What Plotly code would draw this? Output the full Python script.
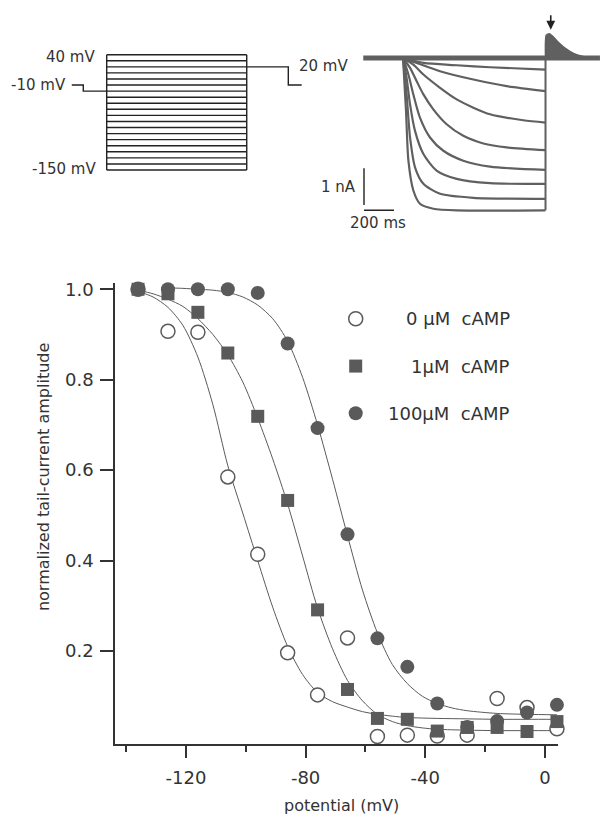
import plotly.graph_objects as go

W, H = 600, 818
FONT = "DejaVu Sans"
INK = "#333333"
GRAY = "#5a5a5a"

# ---------------- data: tail-current activation (bottom panel) ----------------
potential_mV = [-136, -126, -116, -106, -96, -86, -76, -66, -56, -46, -36, -26, -16, -6, 4]
camp_0uM = [1.0, 0.907, 0.905, 0.585, 0.414, 0.196, 0.103, 0.229, 0.011, 0.014, 0.012, 0.014, 0.095, 0.075, 0.028]
camp_1uM = [1.0, 0.99, 0.949, 0.859, 0.719, 0.533, 0.291, 0.115, 0.051, 0.049, 0.023, 0.031, 0.031, 0.022, 0.044]
camp_100uM = [1.0, 1.0, 1.0, 1.0, 0.992, 0.880, 0.693, 0.458, 0.228, 0.165, 0.084, 0.032, 0.045, 0.064, 0.081]

fit_0uM_V = [-136, -131, -126, -121, -116, -111, -106, -101, -96, -91, -86, -81, -76, -71, -66, -61, -56, -51, -46, -36, -26, -16, -6, 4]
fit_0uM_y = [0.995, 0.983, 0.96, 0.92, 0.85, 0.745, 0.61, 0.505, 0.40, 0.297, 0.21, 0.148, 0.108, 0.088, 0.076, 0.066, 0.06, 0.056, 0.053, 0.051, 0.05, 0.049, 0.049, 0.049]

fit_1uM_V = [-136, -131, -126, -121, -116, -111, -106, -101, -96, -91, -86, -81, -76, -71, -66, -61, -56, -51, -46, -41, -36, -26, -16, -6, 4]
fit_1uM_y = [0.998, 0.99, 0.978, 0.962, 0.935, 0.9, 0.855, 0.795, 0.715, 0.625, 0.525, 0.41, 0.295, 0.205, 0.135, 0.09, 0.06, 0.044, 0.035, 0.03, 0.027, 0.025, 0.024, 0.024, 0.024]

fit_100uM_V = [-126, -121, -116, -111, -106, -101, -96, -91, -86, -81, -76, -71, -66, -61, -56, -51, -46, -41, -36, -31, -26, -16, -6, 4]
fit_100uM_y = [1.003, 1.002, 1.0, 0.998, 0.993, 0.983, 0.965, 0.935, 0.885, 0.805, 0.70, 0.58, 0.455, 0.335, 0.24, 0.17, 0.128, 0.10, 0.084, 0.074, 0.068, 0.062, 0.06, 0.059]

x_tick_vals = [-120, -80, -40, 0]
x_tick_text = ["-120", "-80", "-40", "0"]
x_minor_vals = [-140, -100, -60, -20]
y_tick_vals = [0.2, 0.4, 0.6, 0.8, 1.0]
y_tick_text = ["0.2", "0.4", "0.6", "0.8", "1.0"]
legend_labels = ["0 \u03bcM  cAMP", "1\u03bcM  cAMP", "100\u03bcM  cAMP"]

# ---------------- data: voltage protocol (top left) ----------------
step_levels_mV = [40, 30, 20, 10, 0, -10, -20, -30, -40, -50, -60, -70, -80, -90,
                  -100, -110, -120, -130, -140, -150]
pulse_ms = [0, 950]
prepulse_t = [-237, -159, -159, 0]
prepulse_mV = [-10, -10, -20, -20]
tailstep_t = [950, 1232, 1232, 1323]
tailstep_mV = [20, 20, -10, -10]

# ---------------- data: current traces (top right), ms / nA ----------------
trace_t = [
    [0, 136, 358, 580, 950],
    [0, 91, 247, 469, 691, 950],
    [0, 69, 136, 247, 358, 469, 580, 802, 950],
    [0, 47, 91, 136, 202, 291, 402, 536, 691, 950],
    [0, 36, 69, 113, 180, 269, 402, 580, 950],
    [0, 24, 47, 80, 136, 224, 358, 580, 950],
    [0, 24, 47, 80, 136, 247, 469, 950],
    [0, 20, 36, 69, 113, 202, 358, 950],
]
trace_nA = [
    [0, -0.135, -0.198, -0.252, -0.315],
    [0, -0.135, -0.36, -0.586, -0.766, -0.901],
    [0, -0.18, -0.45, -0.811, -1.126, -1.351, -1.532, -1.694, -1.757],
    [0, -0.27, -0.631, -0.991, -1.396, -1.802, -2.117, -2.324, -2.432, -2.505],
    [0, -0.45, -0.991, -1.622, -2.162, -2.523, -2.793, -2.955, -3.045],
    [0, -0.541, -1.261, -1.982, -2.613, -3.063, -3.288, -3.405, -3.423],
    [0, -0.991, -2.162, -2.973, -3.423, -3.694, -3.802, -3.829],
    [0, -1.441, -2.793, -3.604, -3.964, -4.099, -4.144, -4.144],
]
baseline_t = [-265, 1313]
baseline_nA = [0, 0]
tail_bump_t = [950, 955, 975, 995, 1030, 1080, 1140, 1200, 1240]
tail_bump_nA = [0, 0.62, 0.66, 0.60, 0.45, 0.27, 0.12, 0.04, 0]
scalebar_t = [-260, -60]
scalebar_nA = [-3.0, -4.0]

fig = go.Figure()

# ---------- bottom panel ----------
for V, y in [(fit_0uM_V, fit_0uM_y), (fit_1uM_V, fit_1uM_y), (fit_100uM_V, fit_100uM_y)]:
    fig.add_trace(go.Scatter(x=V, y=y, mode="lines", line=dict(color=GRAY, width=1, shape="spline", smoothing=0.8),
                             xaxis="x", yaxis="y", hoverinfo="skip", showlegend=False))

fig.add_trace(go.Scatter(x=potential_mV, y=camp_0uM, mode="markers",
                         marker=dict(symbol="circle", size=14, color="white", line=dict(color=GRAY, width=1.5)),
                         xaxis="x", yaxis="y", showlegend=False, cliponaxis=False))
fig.add_trace(go.Scatter(x=potential_mV, y=camp_100uM, mode="markers",
                         marker=dict(symbol="circle", size=14, color=GRAY, line=dict(width=0)),
                         xaxis="x", yaxis="y", showlegend=False, cliponaxis=False))
fig.add_trace(go.Scatter(x=potential_mV, y=camp_1uM, mode="markers",
                         marker=dict(symbol="square", size=13, color=GRAY, line=dict(width=0)),
                         xaxis="x", yaxis="y", showlegend=False, cliponaxis=False))

# legend (manual, right aligned text)
leg_px_x = 355.7
leg_px_y = [315.7, 363.3, 410.7]
leg_symbols = [dict(symbol="circle", size=14, color="white", line=dict(color=GRAY, width=1.5)),
               dict(symbol="square", size=13, color=GRAY, line=dict(width=0)),
               dict(symbol="circle", size=14, color=GRAY, line=dict(width=0))]
for py, m in zip(leg_px_y, leg_symbols):
    fig.add_trace(go.Scatter(x=[leg_px_x], y=[py], mode="markers", marker=m, xaxis="x4", yaxis="y4",
                             showlegend=False, hoverinfo="skip"))

# ---------- protocol panel ----------
px, py = [], []
for lv in step_levels_mV:
    px += [pulse_ms[0], pulse_ms[1], None]
    py += [lv, lv, None]
px += [pulse_ms[0], pulse_ms[0], None, pulse_ms[1], pulse_ms[1], None]
py += [step_levels_mV[0], step_levels_mV[-1], None, step_levels_mV[0], step_levels_mV[-1], None]
px += prepulse_t + [None] + tailstep_t
py += prepulse_mV + [None] + tailstep_mV
fig.add_trace(go.Scatter(x=px, y=py, mode="lines", line=dict(color="#222222", width=1.4),
                         xaxis="x2", yaxis="y2", hoverinfo="skip", showlegend=False))

# ---------- current traces ----------
TR = "#606060"
fig.add_trace(go.Scatter(x=baseline_t, y=baseline_nA, mode="lines", line=dict(color=TR, width=5),
                         xaxis="x3", yaxis="y3", hoverinfo="skip", showlegend=False))
for t, i in zip(trace_t, trace_nA):
    fig.add_trace(go.Scatter(x=t, y=i, mode="lines", line=dict(color=TR, width=2.2, shape="spline", smoothing=0.7),
                             xaxis="x3", yaxis="y3", hoverinfo="skip", showlegend=False))
fig.add_trace(go.Scatter(x=[pulse_ms[1], pulse_ms[1]], y=[0, min(trace_nA[-1])], mode="lines",
                         line=dict(color=TR, width=2), xaxis="x3", yaxis="y3", hoverinfo="skip", showlegend=False))
fig.add_trace(go.Scatter(x=tail_bump_t, y=tail_bump_nA, mode="lines", fill="toself", fillcolor=TR,
                         line=dict(color=TR, width=1.5, shape="spline", smoothing=0.6),
                         xaxis="x3", yaxis="y3", hoverinfo="skip", showlegend=False))
# scale bars
fig.add_trace(go.Scatter(x=[scalebar_t[0], scalebar_t[0]], y=[scalebar_nA[0], scalebar_nA[1]], mode="lines",
                         line=dict(color="#222222", width=1.4), xaxis="x3", yaxis="y3", hoverinfo="skip", showlegend=False))
fig.add_trace(go.Scatter(x=[scalebar_t[0], scalebar_t[1]], y=[scalebar_nA[1] - 0.14, scalebar_nA[1] - 0.14], mode="lines",
                         line=dict(color="#222222", width=1.4), xaxis="x3", yaxis="y3", hoverinfo="skip", showlegend=False))

annotations = []
lab = dict(family=FONT, size=15, color=INK)
# protocol labels
annotations += [
    dict(x=-66, y=36, xref="x2", yref="y2", text="40 mV", showarrow=False, xanchor="right", yanchor="middle", font=lab),
    dict(x=-262, y=-10, xref="x2", yref="y2", text="-10 mV", showarrow=False, xanchor="right", yanchor="middle", font=lab),
    dict(x=-59, y=-148, xref="x2", yref="y2", text="-150 mV", showarrow=False, xanchor="right", yanchor="middle", font=lab),
    dict(x=1291, y=21, xref="x2", yref="y2", text="20 mV", showarrow=False, xanchor="left", yanchor="middle", font=lab),
]
# trace labels
annotations += [
    dict(x=-300, y=-3.5, xref="x3", yref="y3", text="1 nA", showarrow=False, xanchor="right", yanchor="middle", font=lab),
    dict(x=-165, y=-4.5, xref="x3", yref="y3", text="200 ms", showarrow=False, xanchor="center", yanchor="middle", font=lab),
    dict(x=985, y=0.77, xref="x3", yref="y3", text="", showarrow=True, ax=0, ay=-16, arrowhead=2,
         arrowsize=1.1, arrowwidth=1.6, arrowcolor="#222222"),
]
# legend text
for py_, t in zip(leg_px_y, legend_labels):
    annotations.append(dict(x=511.7, y=py_, xref="x4", yref="y4", text=t, showarrow=False,
                            xanchor="right", yanchor="middle", font=dict(family=FONT, size=18, color=INK)))
# axis titles
annotations += [
    dict(x=43 / W, y=1 - 475 / H, xref="paper", yref="paper", text="normalized tail-current amplitude",
         textangle=-90, showarrow=False, xanchor="center", yanchor="middle", font=dict(family=FONT, size=16, color=INK)),
    dict(x=341.5 / W, y=1 - 805 / H, xref="paper", yref="paper", text="potential (mV)",
         showarrow=False, xanchor="center", yanchor="middle", font=dict(family=FONT, size=16, color=INK)),
]

hidden = dict(visible=False, showgrid=False, zeroline=False, fixedrange=True)

fig.update_layout(
    width=W, height=H, margin=dict(l=0, r=0, t=0, b=0),
    paper_bgcolor="white", plot_bgcolor="rgba(0,0,0,0)",
    showlegend=False,
    font=dict(family=FONT, color=INK),
    xaxis=dict(domain=[115 / W, 558.3 / W], range=[-143.7, 4.45], anchor="y",
               showline=True, linecolor=INK, linewidth=1.5, showgrid=False, zeroline=False,
               ticks="outside", ticklen=12, tickwidth=1.5, tickcolor=INK,
               tickvals=x_tick_vals, ticktext=x_tick_text, ticklabelstandoff=4,
               tickfont=dict(family=FONT, size=18, color=INK),
               minor=dict(tickvals=x_minor_vals, ticks="outside", ticklen=6, tickwidth=1.5, tickcolor=INK, showgrid=False)),
    yaxis=dict(domain=[1 - 744 / H, 1 - 280 / H], range=[-0.0066, 1.0132], anchor="x",
               showline=True, linecolor=INK, linewidth=1.5, showgrid=False, zeroline=False,
               ticks="outside", ticklen=13, tickwidth=1.5, tickcolor=INK,
               tickvals=y_tick_vals, ticktext=y_tick_text, ticklabelstandoff=3,
               tickfont=dict(family=FONT, size=18, color=INK)),
    xaxis2=dict(domain=[0, 330 / W], range=[-723.9, 1514.9], anchor="y2", **hidden),
    yaxis2=dict(domain=[1 - 190 / H, 1 - 20 / H], range=[-189.3, 89.14], anchor="x2", **hidden),
    xaxis3=dict(domain=[330 / W, 1], range=[-486.7, 1313.3], anchor="y3", **hidden),
    yaxis3=dict(domain=[1 - 240 / H, 1], range=[-(240 - 53.3) / 37, 53.3 / 37], anchor="x3", **hidden),
    xaxis4=dict(domain=[0, 1], range=[0, W], anchor="y4", **hidden),
    yaxis4=dict(domain=[0, 1], range=[H, 0], anchor="x4", **hidden),
    annotations=annotations,
)

fig.write_html("out.html", config={"displayModeBar": False},
               post_script="document.body.style.margin='0';document.body.style.padding='0';")
